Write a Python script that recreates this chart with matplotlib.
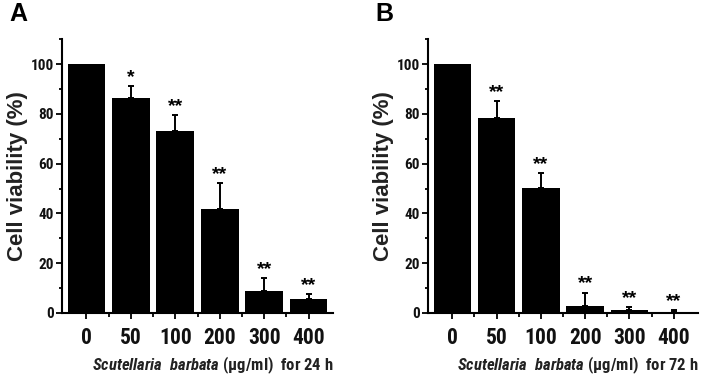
'''
Cell viability after Scutellaria barbata treatment, 24 h and 72 h
'''

import numpy as np
import matplotlib.pyplot as plt
from matplotlib.ticker import MultipleLocator

doses = ['0', '50', '100', '200', '300', '400']

viab_24 = [100, 86.2, 73.1, 41.6, 9.0, 5.5]
err_24 = [0, 5.0, 6.4, 10.5, 5.0, 2.0]
stars_24 = ['', '*', '**', '**', '**', '**']

viab_72 = [100, 78.2, 50.1, 2.8, 1.2, 0.3]
err_72 = [0, 7.0, 6.0, 5.4, 1.0, 1.0]
stars_72 = ['', '**', '**', '**', '**', '**']

plt.rcParams['font.family'] = ['Roboto Condensed', 'Liberation Sans', 'DejaVu Sans']
plt.rcParams['font.weight'] = 'bold'
plt.rcParams['mathtext.fontset'] = 'custom'
plt.rcParams['mathtext.it'] = 'Roboto Condensed:italic:bold'
plt.rcParams['mathtext.rm'] = 'Roboto Condensed:bold'


def draw_panel(ax, vals, errs, stars, hours):
    x = np.arange(len(doses))
    ax.bar(x, vals, width=0.85, color='black', zorder=2)
    has_err = np.array(errs) > 0
    ax.errorbar(x[has_err], np.array(vals)[has_err],
                yerr=[np.zeros(has_err.sum()), np.array(errs)[has_err]], fmt='none',
                ecolor='black', elinewidth=1.4, capsize=2, capthick=1.4, zorder=3)
    for xi, v, e, s in zip(x, vals, errs, stars):
        if s:
            ax.annotate(s, (xi, v + e), xytext=(0, 0), textcoords='offset points',
                        ha='center', va='bottom', fontsize=14, fontweight='bold',
                        family='Liberation Sans')
    ax.set_xlim(-0.55, 5.55)
    ax.set_ylim(0, 110)
    ax.set_xticks(x)
    ax.set_xticklabels(doses, fontsize=15.5, fontweight='bold', color='#111111')
    ax.set_xticks(x[:-1] + 0.5, minor=True)
    ax.yaxis.set_major_locator(MultipleLocator(20))
    ax.yaxis.set_minor_locator(MultipleLocator(10))
    ax.tick_params(axis='y', which='major', labelsize=11, length=4, width=1.3, pad=2,
                   labelcolor='#111111')
    ax.tick_params(axis='y', which='minor', length=2.5, width=1.3)
    ax.tick_params(axis='x', which='major', length=4, width=1.3, pad=6)
    ax.tick_params(axis='x', which='minor', length=3, width=1.3)
    for sp in ['top', 'right']:
        ax.spines[sp].set_visible(False)
    for sp in ['left', 'bottom']:
        ax.spines[sp].set_linewidth(1.5)
    ax.set_ylabel('Cell viability (%)', fontsize=16, fontweight='bold',
                  family='Liberation Sans', labelpad=2, color='#222222')
    ax.set_xlabel(r'$Scutellaria\ \ barbata$ (μg/ml)  for ' + hours + ' h',
                  fontsize=12, fontweight='bold', loc='right', labelpad=4,
                  color='#222222')


fig = plt.figure(figsize=(7.02, 3.84), dpi=100)
axA = fig.add_axes([0.0883, 0.185, 0.3861, 0.713])
axB = fig.add_axes([0.6097, 0.185, 0.3846, 0.713])

draw_panel(axA, viab_24, err_24, stars_24, '24')
draw_panel(axB, viab_72, err_72, stars_72, '72')

fig.text(0.013, 0.945, 'A', fontsize=18, fontweight='bold', family='Liberation Sans')
fig.text(0.535, 0.945, 'B', fontsize=18, fontweight='bold', family='Liberation Sans')

fig.savefig('out.png', dpi=100)
